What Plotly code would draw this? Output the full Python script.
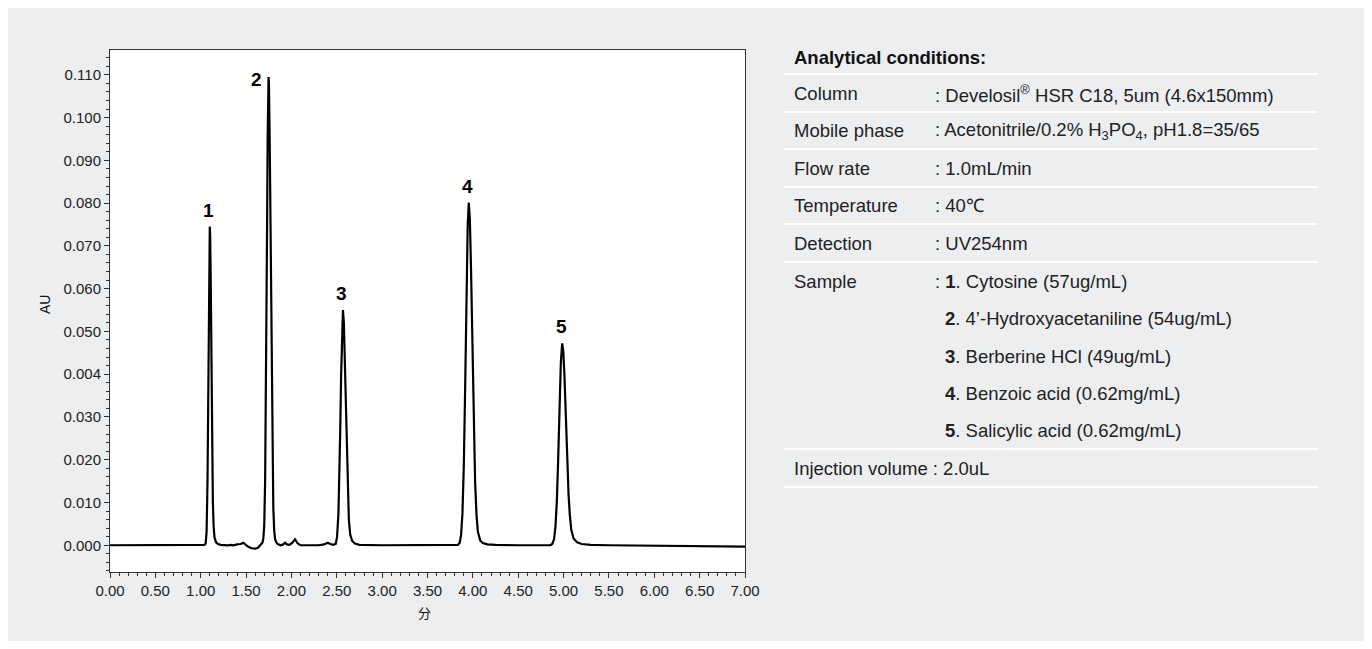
import plotly.graph_objects as go

# ---------------- data ----------------
time_min = [
    0.00, 0.50, 1.00, 1.040, 1.055, 1.065, 1.075, 1.082, 1.088, 1.094, 1.098, 1.100,
    1.104, 1.110, 1.118, 1.126, 1.134, 1.142, 1.152, 1.170, 1.190, 1.220,
    1.25, 1.30, 1.33, 1.36, 1.40, 1.44, 1.47, 1.49, 1.52, 1.56, 1.60, 1.63, 1.66,
    1.680, 1.690, 1.700, 1.710, 1.720, 1.730, 1.738, 1.744, 1.748,
    1.752, 1.760, 1.770, 1.780, 1.790, 1.800, 1.810, 1.820, 1.835, 1.850,
    1.88, 1.91, 1.93, 1.95, 1.98, 2.01, 2.04, 2.07, 2.10, 2.20, 2.30, 2.36, 2.40, 2.43, 2.46,
    2.488, 2.503, 2.518, 2.528, 2.538, 2.548, 2.558, 2.568,
    2.578, 2.588, 2.603, 2.618, 2.633, 2.648, 2.670, 2.700, 2.750,
    3.00, 3.50, 3.80, 3.835, 3.855, 3.870, 3.885, 3.900, 3.915, 3.930, 3.943, 3.955,
    3.967, 3.980, 3.995, 4.010, 4.025, 4.040, 4.055, 4.080, 4.110, 4.160, 4.250,
    4.50, 4.80, 4.855, 4.875, 4.895, 4.910, 4.925, 4.940, 4.955, 4.970, 4.985,
    4.997, 5.010, 5.025, 5.040, 5.055, 5.070, 5.085, 5.110, 5.150, 5.200, 5.300,
    5.50, 6.00, 6.50, 7.00,
]
absorbance_au = [
    0.0000, 0.0000, 0.0000, 0.0001, 0.0004, 0.0033, 0.0151, 0.0326, 0.0516, 0.0680, 0.0737, 0.0745,
    0.0725, 0.0627, 0.0425, 0.0231, 0.0101, 0.0045, 0.0018, 0.0007, 0.0003, 0.0001,
    0.0000, 0.0000, 0.0001, 0.0000, 0.0002, 0.0003, 0.0006, 0.0002, -0.0003, -0.0007, -0.0008, -0.0006, 0.0001,
    0.0006, 0.0015, 0.0045, 0.0148, 0.0370, 0.0700, 0.0955, 0.1070, 0.1095,
    0.1080, 0.0956, 0.0693, 0.0416, 0.0207, 0.0090, 0.0035, 0.0014, 0.0006, 0.0003,
    0.0000, 0.0002, 0.0006, 0.0002, 0.0001, 0.0006, 0.0014, 0.0004, 0.0000, 0.0000, 0.0000, 0.0002, 0.0006, 0.0003, 0.0001,
    0.0003, 0.0019, 0.0074, 0.0153, 0.0268, 0.0399, 0.0508, 0.0550,
    0.0520, 0.0440, 0.0278, 0.0137, 0.0060, 0.0025, 0.0010, 0.0004, 0.0001,
    0.0000, 0.0000, 0.0000, 0.0001, 0.0006, 0.0024, 0.0073, 0.0183, 0.0367, 0.0590, 0.0747, 0.0801,
    0.0762, 0.0645, 0.0460, 0.0281, 0.0147, 0.0072, 0.0032, 0.0012, 0.0005, 0.0002, 0.0001,
    0.0000, -0.0001, 0.0000, 0.0003, 0.0014, 0.0042, 0.0099, 0.0197, 0.0320, 0.0428, 0.0472,
    0.0453, 0.0395, 0.0300, 0.0200, 0.0118, 0.0068, 0.0036, 0.0016, 0.0007, 0.0003, 0.0001,
    0.0000, -0.0001, -0.0002, -0.0003,
]

peak_labels = ["1", "2", "3", "4", "5"]
peak_times = [1.100, 1.748, 2.568, 3.955, 4.985]
peak_heights = [0.0745, 0.1095, 0.0550, 0.0801, 0.0472]

y_tick_values = [0.000, 0.010, 0.020, 0.030, 0.040, 0.050, 0.060, 0.070, 0.080, 0.090, 0.100, 0.110]
y_tick_labels = ["0.000", "0.010", "0.020", "0.030", "0.004", "0.050", "0.060", "0.070",
                 "0.080", "0.090", "0.100", "0.110"]

table_title = "Analytical conditions:"
cond_names = ["Column", "Mobile phase", "Flow rate", "Temperature", "Detection", "Sample"]
cond_values = [
    ": Develosil<sup>®</sup> HSR C18, 5um (4.6x150mm)",
    ": Acetonitrile/0.2% H<sub>3</sub>PO<sub>4</sub>, pH1.8=35/65",
    ": 1.0mL/min",
    ": 40℃",
    ": UV254nm",
    ": <b>1</b>. Cytosine (57ug/mL)",
]
sample_more = [
    "<b>2</b>. 4’-Hydroxyacetaniline (54ug/mL)",
    "<b>3</b>. Berberine HCl (49ug/mL)",
    "<b>4</b>. Benzoic acid (0.62mg/mL)",
    "<b>5</b>. Salicylic acid (0.62mg/mL)",
]
injection_line = "Injection volume : 2.0uL"

# ---------------- layout geometry (pixels, in page coordinates) ----------------
OFF = 8                      # page body margin
W, H = 1360, 633
L, R, T, B = 110 - OFF, 745 - OFF, 50 - OFF, 572 - OFF


def px(xp):
    return (xp - OFF - L) / (R - L)


def py(yp):
    return (B - (yp - OFF)) / (B - T)


FONT = "Liberation Sans, Arial, Helvetica, sans-serif"
AXC = "#333333"
TS = 18.5

fig = go.Figure()
fig.add_trace(go.Scatter(x=time_min, y=absorbance_au, mode="lines",
                         line=dict(color="#000000", width=2.2), hoverinfo="skip",
                         showlegend=False))

annotations = []
for lab, t, h in zip(peak_labels, peak_times, peak_heights):
    if lab == "2":
        annotations.append(dict(x=t, y=h, xref="x", yref="y", text=f"<b>{lab}</b>",
                                showarrow=False, xanchor="right", yanchor="middle",
                                xshift=-5, yshift=-3,
                                font=dict(family=FONT, size=19, color="#000")))
    else:
        annotations.append(dict(x=t, y=h, xref="x", yref="y", text=f"<b>{lab}</b>",
                                showarrow=False, xanchor="center", yanchor="bottom",
                                xshift=-1, yshift=4,
                                font=dict(family=FONT, size=19, color="#000")))

# axis titles
annotations.append(dict(x=px(45), y=py(305), xref="paper", yref="paper", text="AU",
                        textangle=-90, showarrow=False, xanchor="center", yanchor="middle",
                        font=dict(family=FONT, size=14, color="#111")))
annotations.append(dict(x=px(424), y=py(612), xref="paper", yref="paper", text="分",
                        showarrow=False, xanchor="center", yanchor="middle",
                        font=dict(family="Noto Sans CJK SC, sans-serif", size=13, color="#111")))

# table
TX1, TX2, TX3 = 792, 933, 943
annotations.append(dict(x=px(TX1), y=py(57), xref="paper", yref="paper",
                        text=f"<b>{table_title}</b>", showarrow=False,
                        xanchor="left", yanchor="middle",
                        font=dict(family=FONT, size=TS, color="#111")))
row_y = [93.5 + 37.5 * i for i in range(11)]
for i, (n, v) in enumerate(zip(cond_names, cond_values)):
    annotations.append(dict(x=px(TX1), y=py(row_y[i]), xref="paper", yref="paper", text=n,
                            showarrow=False, xanchor="left", yanchor="middle",
                            font=dict(family=FONT, size=TS, color="#222")))
    annotations.append(dict(x=px(TX2), y=py(row_y[i]), xref="paper", yref="paper", text=v,
                            showarrow=False, xanchor="left", yanchor="middle",
                            font=dict(family=FONT, size=TS, color="#222")))
for j, s in enumerate(sample_more):
    annotations.append(dict(x=px(TX3), y=py(row_y[6 + j]), xref="paper", yref="paper", text=s,
                            showarrow=False, xanchor="left", yanchor="middle",
                            font=dict(family=FONT, size=TS, color="#222")))
annotations.append(dict(x=px(TX1), y=py(row_y[10]), xref="paper", yref="paper",
                        text=injection_line, showarrow=False, xanchor="left", yanchor="middle",
                        font=dict(family=FONT, size=TS, color="#222")))

shapes = []
for ly in [74, 112, 149, 187, 224, 262, 449, 487]:
    shapes.append(dict(type="line", xref="paper", yref="paper", x0=px(784), x1=px(1318),
                       y0=py(ly), y1=py(ly), line=dict(color="#FFFFFF", width=2), layer="below"))

fig.update_layout(
    width=W, height=H,
    margin=dict(l=L, r=W - R, t=T, b=H - B, pad=0),
    paper_bgcolor="#EDEEF0", plot_bgcolor="#FFFFFF",
    font=dict(family=FONT, size=15, color="#222"),
    showlegend=False,
    annotations=annotations,
    shapes=shapes,
    xaxis=dict(range=[0, 7], tickmode="array",
               tickvals=[0.5 * i for i in range(15)],
               ticktext=[f"{0.5 * i:.2f}" for i in range(15)],
               showgrid=False, zeroline=False, showline=True, linecolor=AXC, linewidth=1,
               mirror=True, ticks="outside", ticklen=5, tickwidth=1, tickcolor=AXC,
               tickfont=dict(family=FONT, size=15, color="#222"),
               minor=dict(dtick=0.1, tick0=0, ticks="outside", ticklen=3, tickcolor=AXC,
                          showgrid=False)),
    yaxis=dict(range=[-0.00625, 0.1158], tickmode="array",
               tickvals=y_tick_values, ticktext=y_tick_labels,
               showgrid=False, zeroline=False, showline=True, linecolor=AXC, linewidth=1,
               mirror=True, ticks="outside", ticklen=5, tickwidth=1, tickcolor=AXC,
               tickfont=dict(family=FONT, size=15, color="#222"),
               minor=dict(dtick=0.002, tick0=0, ticks="outside", ticklen=3, tickcolor=AXC,
                          showgrid=False)),
)

fig.write_html("out.html")
